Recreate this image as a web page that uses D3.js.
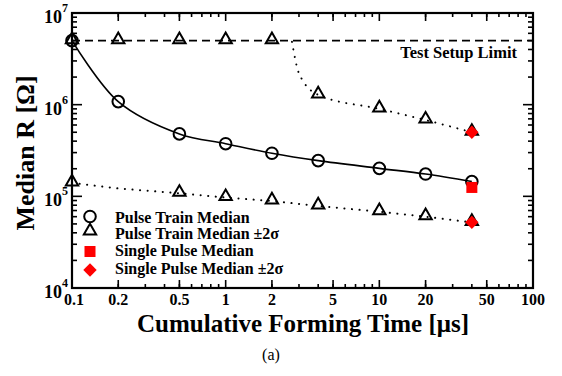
<!DOCTYPE html>
<html>
<head>
<meta charset="utf-8">
<script src="https://cdn.jsdelivr.net/npm/d3@7/dist/d3.min.js"></script>
<style>
  html, body { margin: 0; padding: 0; background: #fff; }
  svg { display: block; font-family: "Liberation Serif", "Times New Roman", serif; }
</style>
</head>
<body>
<svg id="chart" width="562" height="376"></svg>
<script>
// Cumulative forming time (µs) for each measurement step
const formingTime = [0.1, 0.2, 0.5, 1, 2, 4, 10, 20, 40];
// Pulse train median resistance (Ω)
const trainMedian = [5.0e6, 1.08e6, 4.8e5, 3.75e5, 2.95e5, 2.45e5, 2.02e5, 1.75e5, 1.45e5];
// Pulse train median +2σ (capped by the test setup limit up to 2 µs)
const upperTime = [0.1, 0.2, 0.5, 1, 2, 4, 10, 20, 40];
const upperSigma = [5.0e6, 5.0e6, 5.0e6, 5.0e6, 5.0e6, 1.28e6, 9.0e5, 6.8e5, 5.0e5];
// Upper +2σ trend leaving the limit line
const upperTrendTime = [2.7, 3.0, 4, 10, 20, 40];
const upperTrendR = [4.85e6, 2.2e6, 1.28e6, 9.0e5, 6.8e5, 5.0e5];
// Pulse train median −2σ
const lowerTime = [0.1, 0.5, 1, 2, 4, 10, 20, 40];
const lowerSigma = [1.4e5, 1.08e5, 9.7e4, 8.9e4, 7.85e4, 6.8e4, 6.0e4, 5.2e4];
const lowerTrendTime = [0.1, 0.2, 0.5, 1, 2, 4, 10, 20, 40];
const lowerTrendR = [1.4e5, 1.22e5, 1.08e5, 9.7e4, 8.9e4, 7.85e4, 6.8e4, 6.0e4, 5.2e4];
// Single pulse results at 40 µs
const singleTime = [40];
const singleMedian = [1.25e5];
const singleSigmaTime = [40, 40];
const singleSigma = [5.0e5, 5.2e4];
// Test setup limit
const setupLimit = 5.0e6;
// Axis ticks
const xTickValues = [0.1, 0.2, 0.5, 1, 2, 5, 10, 20, 50, 100];
const yDecades = [4, 5, 6, 7];
const legendLabels = ["Pulse Train Median", "Pulse Train Median \u00B12\u03C3", "Single Pulse Median", "Single Pulse Median \u00B12\u03C3"];

const svg = d3.select("#chart");
const m = { left: 72, right: 533, top: 13, bottom: 288 };

const x = d3.scaleLog().domain([0.1, 100]).range([m.left, m.right]);
const y = d3.scaleLog().domain([1e4, 1e7]).range([m.bottom, m.top]);

// minor ticks for each decade
const minorX = [];
[0.1, 1, 10].forEach(d => { for (let k = 2; k <= 9; k++) minorX.push(d * k); });
const minorY = [];
[1e4, 1e5, 1e6].forEach(d => { for (let k = 2; k <= 9; k++) minorY.push(d * k); });

const g = svg.append("g");

// inward ticks on all four sides
function tickSet(vals, len, side) {
  vals.forEach(v => {
    if (side === "bottom") g.append("line").attr("x1", x(v)).attr("x2", x(v)).attr("y1", m.bottom).attr("y2", m.bottom - len);
    if (side === "top") g.append("line").attr("x1", x(v)).attr("x2", x(v)).attr("y1", m.top).attr("y2", m.top + len);
    if (side === "left") g.append("line").attr("y1", y(v)).attr("y2", y(v)).attr("x1", m.left).attr("x2", m.left + len);
    if (side === "right") g.append("line").attr("y1", y(v)).attr("y2", y(v)).attr("x1", m.right).attr("x2", m.right - len);
  });
}
tickSet(minorX, 4, "bottom"); tickSet(minorX, 4, "top");
tickSet(xTickValues, 8, "bottom"); tickSet(xTickValues, 8, "top");
tickSet(minorY, 5, "left"); tickSet(minorY, 5, "right");
const decadeVals = yDecades.map(e => Math.pow(10, e));
tickSet(decadeVals, 10, "left"); tickSet(decadeVals, 10, "right");
g.selectAll("line").attr("stroke", "#000").attr("stroke-width", 1.6);

// frame
svg.append("rect").attr("x", m.left).attr("y", m.top)
  .attr("width", m.right - m.left).attr("height", m.bottom - m.top)
  .attr("fill", "none").attr("stroke", "#000").attr("stroke-width", 2.2);

// x tick labels
svg.append("g").selectAll("text").data(xTickValues).join("text")
  .attr("x", d => x(d) + (d === 0.1 ? 2 : 0)).attr("y", 305)
  .attr("text-anchor", "middle").attr("font-size", 16).attr("font-weight", "bold")
  .text(d => d3.format("~g")(d));

// y tick labels (10^n)
const yl = svg.append("g").selectAll("text").data(yDecades).join("text")
  .attr("x", 68).attr("y", d => y(Math.pow(10, d)) + 10)
  .attr("font-size", 18).attr("font-weight", "bold")
  .attr("text-anchor", "end");
yl.append("tspan").text("10");
yl.append("tspan").attr("dy", -11).attr("font-size", 12).text(d => d);

// axis titles
svg.append("text").attr("x", 303).attr("y", 332).attr("text-anchor", "middle")
  .attr("font-size", 25).attr("font-weight", "bold").text("Cumulative Forming Time [\u03BCs]");
svg.append("text").attr("transform", "translate(34,153) rotate(-90)").attr("text-anchor", "middle")
  .attr("font-size", 26).attr("font-weight", "bold").text("Median R [\u03A9]");
svg.append("text").attr("x", 271).attr("y", 360).attr("text-anchor", "middle")
  .attr("font-size", 16).text("(a)");

const plot = svg.append("g");

// test setup limit
plot.append("line").attr("x1", x(0.1)).attr("x2", x(100)).attr("y1", y(setupLimit)).attr("y2", y(setupLimit))
  .attr("stroke", "#000").attr("stroke-width", 1.6).attr("stroke-dasharray", "8,5");
plot.append("text").attr("x", 517).attr("y", 58).attr("text-anchor", "end")
  .attr("font-size", 16.5).attr("font-weight", "bold").text("Test Setup Limit");

// median line
const smooth = d3.line().x(d => x(d[0])).y(d => y(d[1])).curve(d3.curveCatmullRom.alpha(0.5));
plot.append("path").datum(formingTime.map((t, i) => [t, trainMedian[i]]))
  .attr("d", smooth).attr("fill", "none").attr("stroke", "#000").attr("stroke-width", 1.6);

// ±2σ trends
const mono = d3.line().x(d => x(d[0])).y(d => y(d[1])).curve(d3.curveMonotoneX);
plot.append("path").datum(upperTrendTime.map((t, i) => [t, upperTrendR[i]]))
  .attr("d", mono).attr("fill", "none").attr("stroke", "#000").attr("stroke-width", 2)
  .attr("stroke-linecap", "round").attr("stroke-dasharray", "0.1,7.5");
plot.append("path").datum(lowerTrendTime.map((t, i) => [t, lowerTrendR[i]]))
  .attr("d", d3.line().x(d => x(d[0])).y(d => y(d[1]))).attr("fill", "none").attr("stroke", "#000").attr("stroke-width", 2)
  .attr("stroke-linecap", "round").attr("stroke-dasharray", "0.1,7.5");

// markers
const tri = d3.symbol().type(d3.symbolTriangle).size(66);
function triangles(ts, rs) {
  plot.append("g").selectAll("path").data(ts.map((t, i) => [t, rs[i]])).join("path")
    .attr("transform", d => `translate(${x(d[0])},${y(d[1]) - 1})`).attr("d", tri)
    .attr("fill", "none").attr("stroke", "#000").attr("stroke-width", 2);
}
triangles(upperTime, upperSigma);
triangles(lowerTime, lowerSigma);

plot.append("g").selectAll("circle").data(formingTime.map((t, i) => [t, trainMedian[i]])).join("circle")
  .attr("cx", d => x(d[0])).attr("cy", d => y(d[1])).attr("r", 5.8)
  .attr("fill", "none").attr("stroke", "#000").attr("stroke-width", 2);

plot.append("g").selectAll("rect").data(singleTime.map((t, i) => [t, singleMedian[i]])).join("rect")
  .attr("x", d => x(d[0]) - 5.5).attr("y", d => y(d[1]) - 5.5).attr("width", 11).attr("height", 11)
  .attr("fill", "#ff0000");
const diamond = d3.symbol().type(d3.symbolSquare).size(90);
plot.append("g").selectAll("path").data(singleSigmaTime.map((t, i) => [t, singleSigma[i]])).join("path")
  .attr("transform", d => `translate(${x(d[0])},${y(d[1])}) rotate(45)`)
  .attr("d", diamond).attr("fill", "#ff0000");

// legend
const leg = svg.append("g");
const markerY = [216.5, 232, 251.5, 270];
const textY = [223, 239, 256, 274];
leg.selectAll("text").data(legendLabels).join("text")
  .attr("x", 115).attr("y", (d, i) => textY[i]).attr("font-size", 16).attr("font-weight", "bold").text(d => d);
leg.append("circle").attr("cx", 90).attr("cy", markerY[0]).attr("r", 5.8).attr("fill", "none").attr("stroke", "#000").attr("stroke-width", 2);
leg.append("path").attr("transform", `translate(90,${markerY[1] - 1})`).attr("d", tri).attr("fill", "none").attr("stroke", "#000").attr("stroke-width", 2);
leg.append("rect").attr("x", 84.5).attr("y", markerY[2] - 5.5).attr("width", 11).attr("height", 11).attr("fill", "#ff0000");
leg.append("path").attr("transform", `translate(90,${markerY[3]}) rotate(45)`).attr("d", diamond).attr("fill", "#ff0000");
</script>
</body>
</html>
